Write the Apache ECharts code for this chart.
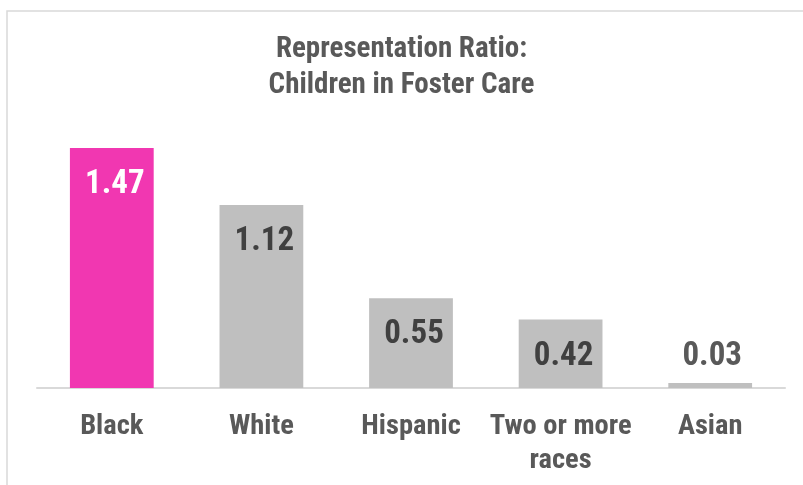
<!DOCTYPE html>
<html>
<head>
<meta charset="utf-8">
<script src="https://cdn.jsdelivr.net/npm/echarts@6/dist/echarts.min.js"></script>
<style>
  html, body { margin: 0; padding: 0; background: #ffffff; }
  #chart { width: 803px; height: 485px; }
</style>
</head>
<body>
<div id="chart"></div>
<script>
// Representation ratio by race/ethnicity
const categories = ['Black', 'White', 'Hispanic', 'Two or more\nraces', 'Asian'];
const ratios = [1.47, 1.12, 0.55, 0.42, 0.03];
const highlighted = 'Black';

const FONT = "'Roboto Condensed', 'Liberation Sans Narrow', Roboto, sans-serif";
const PINK = '#f137b1';
const GRAY = '#bfbfbf';

const barData = categories.map((name, i) => {
  const isHi = name === highlighted;
  const small = ratios[i] < 0.1;
  return {
    value: ratios[i],
    itemStyle: { color: isHi ? PINK : GRAY },
    label: small
      ? { position: 'top', distance: 9, color: '#595959', offset: [2, 0] }
      : { position: 'insideTop', distance: 20, color: isHi ? '#ffffff' : '#404040', offset: [3, 0] }
  };
});

const chart = echarts.init(document.getElementById('chart'), null, { renderer: 'canvas' });
chart.setOption({
  backgroundColor: '#ffffff',
  animation: false,
  title: {
    text: 'Representation Ratio:\nChildren in Foster Care',
    left: 'center',
    top: 27,
    textStyle: {
      fontFamily: FONT,
      fontSize: 29,
      fontWeight: 'bold',
      color: '#595959',
      lineHeight: 36
    }
  },
  graphic: [{
    type: 'rect',
    silent: true,
    z: -1,
    shape: { x: 7, y: 11, width: 830, height: 520 },
    style: { fill: 'none', stroke: '#d9d9d9', lineWidth: 1.5 }
  }],
  grid: { left: 37, right: 18, top: 143, bottom: 97 },
  xAxis: {
    type: 'category',
    data: categories,
    axisLine: { lineStyle: { color: '#d9d9d9', width: 2 } },
    axisTick: { show: false },
    axisLabel: {
      margin: 22,
      interval: 0,
      fontFamily: FONT,
      fontSize: 28.5,
      fontWeight: 'bold',
      color: '#595959',
      lineHeight: 34
    }
  },
  yAxis: {
    type: 'value',
    min: 0,
    max: 1.5,
    show: false,
    splitLine: { show: false }
  },
  series: [{
    type: 'bar',
    data: barData,
    barWidth: '56%',
    label: {
      show: true,
      fontFamily: FONT,
      fontSize: 33,
      fontWeight: 'bold',
      lineHeight: 34,
      formatter: p => p.value.toFixed(2)
    }
  }]
});
</script>
</body>
</html>
